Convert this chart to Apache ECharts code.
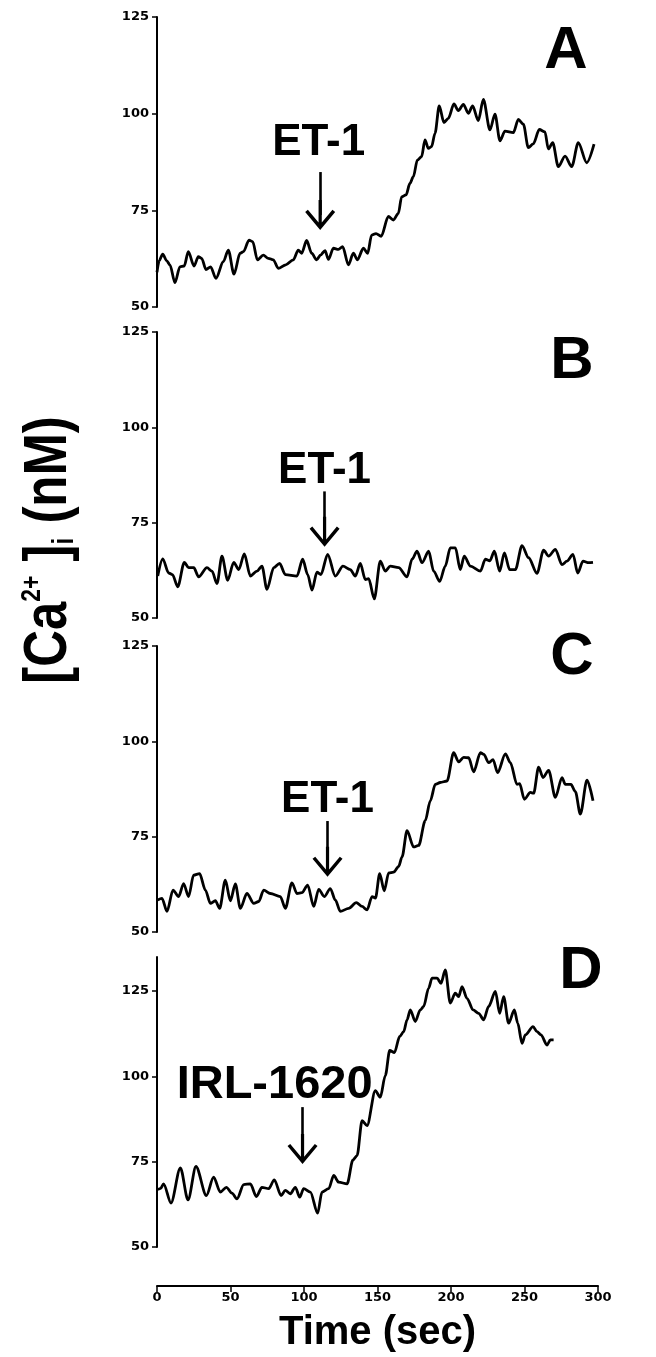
<!DOCTYPE html>
<html><head><meta charset="utf-8">
<script src="https://cdn.jsdelivr.net/npm/echarts@6/dist/echarts.min.js"></script>
<style>html,body{margin:0;padding:0;background:#fff}#c{width:656px;height:1357px}</style>
</head><body><div id="c"></div>
<script>
// ---- data ----
const timeTicks = [0, 50, 100, 150, 200, 250, 300];
const yTicks = [50, 75, 100, 125];
const panelLetters = ['A', 'B', 'C', 'D'];
const stimLabels = ['ET-1', 'ET-1', 'ET-1', 'IRL-1620'];
const stimTime = [111, 114, 116, 99];
const labelTime = [110, 114, 116, 80];
const arrowFrom = [84.9, 83.2, 79.1, 91.0];
const arrowTo = [73.8, 72.6, 68.4, 78.7];
const labelAt = [92.5, 88.7, 84.7, 97.4];
const yMax = [125, 125, 125, 135];

const tA = [0,1.5,3.9,6.5,8.8,12.2,15.6,18.5,21.3,25.2,28.1,30.4,33.3,36.5,40.1,45.1,48.5,52.4,56.5,58.8,62.6,65.1,68.3,72.3,75.7,79.1,82.5,87.6,92.7,96.1,98.4,101.8,105.2,108.6,111.4,114.3,116.6,120,123.4,126.3,130.2,133.6,136.3,140.4,143.3,146,149,152.5,157.4,160.8,164.2,166.4,169.4,172.1,174.4,177.1,180,182.3,184.6,186.8,189.1,192,195.2,198.2,202,205,208.4,211.8,214.7,218.6,222,226.5,229.9,233.3,236.7,242.4,245.8,249.2,252.6,256,260.1,263.9,266.2,269.2,273,277.6,282.1,286.6,292.3,297.3];
const vA = [59,62,63.7,62,60.9,56.3,60.4,60.6,64.3,60.6,63,62.6,59.7,60.4,57.4,61.7,64.7,58.5,63.9,64.3,67.3,66.9,62.2,63.4,62.6,62.2,60,60.9,62.2,64.7,63.9,67.2,63.9,62.2,63.5,64.6,62.3,65.2,64.9,65.6,60.9,63.9,62.2,65.2,63.9,68.6,69,68.3,73.4,72.5,74.2,78.5,79,82,83.7,88,88.9,93.2,91,91.5,94.9,102,97.7,98.8,102.5,100.8,102.4,100.1,102,98.2,103.7,95.8,99.9,93,95.5,95.1,98.5,97.3,91.2,92.2,95.9,95.3,90.9,92.5,86.3,89,86.3,92.5,87.3,92.1];

const tB = [0.5,3.9,7.9,10.5,14.1,18.6,21.5,25,28.3,34,37.4,40.8,44.2,48.1,52.2,55.6,59.4,63.5,68,71.4,74.8,79.4,83.4,87.3,95.2,99.1,102.5,105.4,108.8,111.5,116.1,121.3,126.5,131.5,134.9,138.3,141.7,144,147.8,151.9,155.3,158.7,164.4,170.1,173.5,176.9,180.3,184.8,188.2,192.3,196.1,199.5,203,206.3,209,213.2,220,223.4,226.4,229.5,233.1,236.3,239.9,243.8,248.3,252.8,258.5,263,266.4,271,275.5,278.9,283,286.2,289.8,293.7,296.6];
const vB = [61,65.5,61.8,61.4,58.2,64.6,63.2,63.2,60.8,63.2,62.3,59,66.2,59.9,64.6,62.7,66.8,61,62.3,63.6,57.5,63.2,64.3,61.4,61,65.4,61.4,57.3,62,61.4,66.7,61,63.6,62.7,61,64.3,60.1,60.3,55,64.9,62.3,63.6,63.2,60.8,65.4,67.5,64.5,67.5,62.3,59.6,63.6,68.4,68.4,62.7,66.2,63.6,62.3,65.4,65,67.5,62.3,67.1,62.7,62.7,69,65.8,61.7,67.8,66.2,68,64,64.9,66.7,61.8,64.9,64.5,64.6];

const tC = [0.5,3.4,6.8,10.9,14.7,18.1,21.5,24.9,29,32.9,36.3,39.7,42.6,46.5,49.9,53.3,56.7,61.2,65.8,69.2,72.6,77.1,83.9,87.3,91.8,95.2,98.6,102.5,106.6,110,113.8,117.9,121.3,124.7,130.4,135.6,139.5,142.9,146.3,148.6,151.5,154.6,157.6,161,164.4,166.7,170.1,174.6,178,182.5,185.9,189.3,192.7,197.3,201.8,205.2,208.6,212,215.4,220,222.3,225.6,228.6,231.7,237,240.4,244.9,246.7,249.9,254,256.2,259.6,262.6,266.4,271,275.5,277.8,281.6,284.6,288,292.5,296.6];
const vC = [58.4,58.8,55.4,61,59.3,62.7,59.3,64.9,65.3,61,57.5,58.2,56.2,63.6,58.2,62.6,56.2,60.1,57.5,58,61,60.1,59.3,56.2,62.9,60.1,60.3,62.3,56.7,61.2,59.3,61.4,58.4,55.4,56.2,57.7,56.7,55.8,59.3,58.9,65.3,60.8,65.5,65.7,67.2,69.7,76.6,72.3,72.7,79.2,84.4,88.7,89.2,89.6,97,94.6,95.8,95.7,92,97,96.6,94.4,95.2,91.8,96.7,94.4,88.7,88.9,84.8,86.6,86.4,93.2,90.5,92.4,85.3,90.5,88.7,88.7,86.8,80.9,89.8,84.4];

const tD = [0.5,2.5,4.5,9.5,15.9,21.1,26.5,33.6,38.5,43.1,47.2,51,54.4,59,63.5,67.6,71.4,76,79.8,84.4,87.3,90.7,94.1,97.1,99.8,104.3,109.3,112.2,116.8,120.2,123.6,129.3,133.3,136.1,139.5,142.9,148.5,151.9,155.3,158.3,161.5,165.1,167.8,170.1,172.3,175.7,179.1,181.4,184.8,187.1,190.5,193.2,196.1,199.5,202.9,205.2,207.5,210.9,215,218.8,222.2,225.6,230.2,233.1,235.8,239.2,243.1,245.4,248.3,250.6,255.8,258.5,261.2,265.3,267.6,269.8];
const vD = [66.8,67.2,68.5,62.9,73.2,63.8,73.6,65.1,70.5,66.1,67.5,65.8,64.1,68.3,68.5,64.8,67.5,67.1,69.7,65.1,66.6,65.6,67.5,64.6,67.1,66.1,59.9,66.1,67.1,71,69,68.5,75.5,76.8,87,85.6,95.8,93.9,100.2,107.6,107,111.7,113.1,116.6,119.5,116.1,119.5,120.5,125.9,128.8,128.8,127.3,131.2,121.5,124.4,123.4,126.3,122.9,119.5,118.5,116.6,120.5,124.9,118.5,123.4,115.6,119.5,115.6,109.7,112.2,114.6,113.1,112.2,109.2,110.7,110.7];

const times = [tA, tB, tC, tD];
const vals = [vA, vB, vC, vD];

// ---- layout ----
const grids = [
  {left: 157, width: 441, top: 17, height: 290},
  {left: 157, width: 441, top: 332, height: 286},
  {left: 157, width: 441, top: 646, height: 286},
  {left: 157, width: 441, top: 957, height: 290}
];
const letterPos = [[566, 51], [572, 361], [572, 657], [581, 971]];
const tickFont = {fontFamily: 'DejaVu Sans', fontWeight: 'bold', fontSize: 13, color: '#000'};
const bigFont = 'Liberation Sans';
const arrowPath = 'path://M15,0 L30,18 L27.3,20.2 L16.6,7.4 L16.6,30 L13.4,30 L13.4,7.4 L2.7,20.2 L0,18 Z';

const xAxes = grids.map((g, i) => ({
  gridIndex: i, type: 'value', min: 0, max: 300, interval: 50,
  show: i === 3, offset: i === 3 ? 39 : 0,
  axisLine: {show: true, onZero: false, lineStyle: {color: '#000', width: 2}},
  axisTick: {show: true, length: 6, lineStyle: {color: '#000', width: 1.5}},
  axisLabel: Object.assign({margin: 5, customValues: timeTicks}, tickFont),
  splitLine: {show: false},
  name: i === 3 ? 'Time (sec)' : '', nameLocation: 'middle', nameGap: 27,
  nameTextStyle: {fontFamily: bigFont, fontWeight: 'bold', fontSize: 40, color: '#000'}
}));
const yAxes = grids.map((g, i) => ({
  gridIndex: i, type: 'value', min: 50, max: yMax[i], interval: 25,
  axisLine: {show: true, lineStyle: {color: '#000', width: 2}},
  axisTick: {show: true, length: 5, customValues: yTicks, lineStyle: {color: '#000', width: 1.5}},
  axisLabel: Object.assign({margin: 8, customValues: yTicks}, tickFont),
  splitLine: {show: false}
}));
const series = times.map((t, i) => ({
  type: 'line', xAxisIndex: i, yAxisIndex: i,
  data: t.map((x, k) => [x, vals[i][k]]),
  showSymbol: false, smooth: 0.3, smoothMonotone: 'x',
  lineStyle: {color: '#000', width: 2.8}, itemStyle: {color: '#000'},
  silent: true, animation: false,
  markLine: {
    silent: true, animation: false,
    symbol: ['none', arrowPath], symbolSize: 30,
    lineStyle: {color: '#000', width: 2.6, type: 'solid'},
    label: {show: false},
    data: [[{coord: [stimTime[i], arrowFrom[i]]}, {coord: [stimTime[i], arrowTo[i]]}]]
  },
  markPoint: {
    silent: true, animation: false, symbol: 'circle', symbolSize: 0,
    itemStyle: {color: 'rgba(0,0,0,0)'},
    label: {show: true, position: 'inside', formatter: '{b}', fontFamily: bigFont, fontWeight: 'bold',
      fontSize: i === 3 ? 47 : 44, color: '#000'},
    data: [{name: stimLabels[i], coord: [labelTime[i], labelAt[i]]}]
  }
}));

const graphics = panelLetters.map((L, i) => ({
  type: 'text', x: letterPos[i][0], y: letterPos[i][1], silent: true,
  style: {text: L, fontFamily: bigFont, fontWeight: 'bold', fontSize: 60, fill: '#000',
    textAlign: 'center', textVerticalAlign: 'middle'}
}));
graphics.push({
  type: 'text', x: 49, y: 550, rotation: Math.PI / 2, scaleX: 0.82, silent: true,
  style: {
    text: '[Ca{sup|2+} ]{sub|i} (nM)',
    fontFamily: bigFont, fontWeight: 'bold', fontSize: 62, fill: '#000',
    textAlign: 'center', textVerticalAlign: 'middle',
    rich: {
      sup: {fontFamily: bigFont, fontWeight: 'bold', fontSize: 28, fill: '#000', verticalAlign: 'top'},
      sub: {fontFamily: bigFont, fontWeight: 'bold', fontSize: 30, fill: '#000', verticalAlign: 'bottom'}
    }
  }
});

const chart = echarts.init(document.getElementById('c'), null, {renderer: 'canvas'});
chart.setOption({
  backgroundColor: '#fff',
  animation: false,
  grid: grids,
  xAxis: xAxes,
  yAxis: yAxes,
  series: series,
  graphic: graphics
});
</script>
</body></html>
